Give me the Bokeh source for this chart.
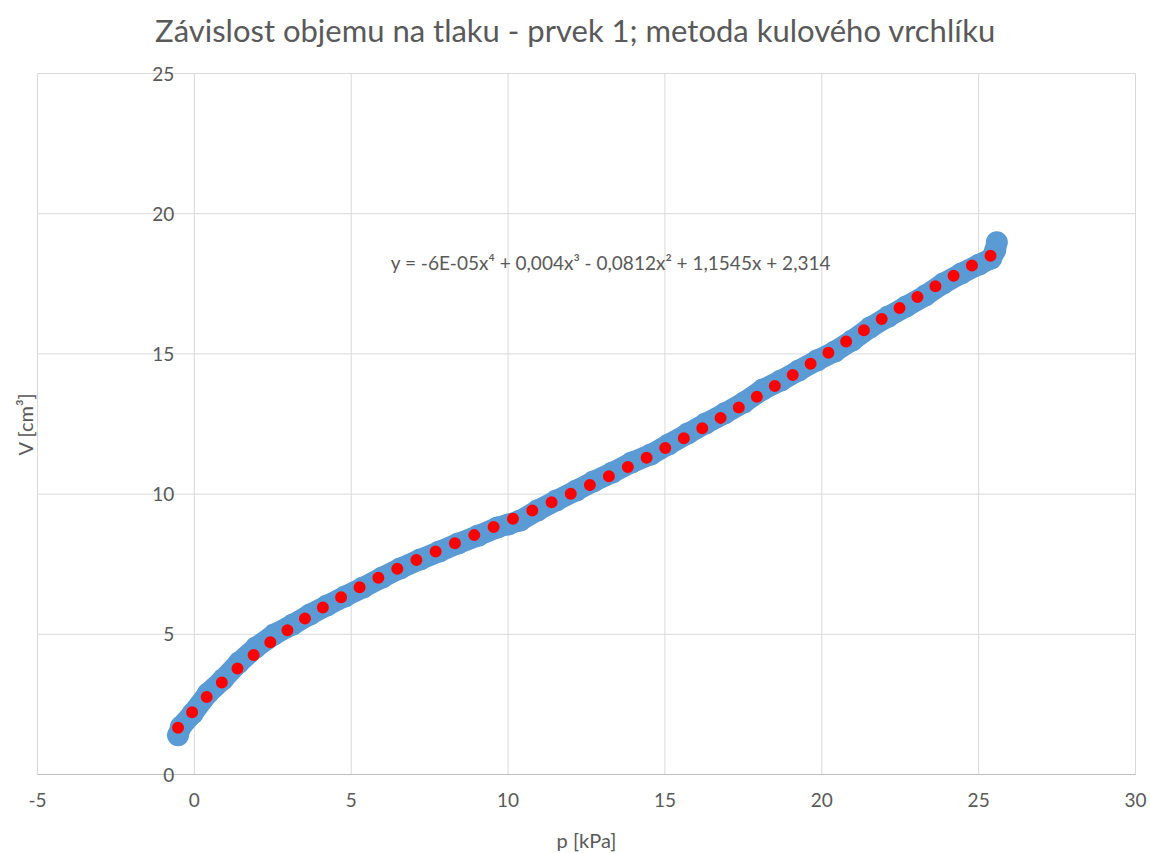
import numpy as np
from bokeh.plotting import figure
from bokeh.models import Range1d, FixedTicker, Label, LinearAxis
from bokeh.embed import file_html
from bokeh.resources import INLINE

# ---- data ----
p_kpa = [-0.52, -0.43, -0.05, 0.43, 0.91, 1.42, 1.96, 2.54, 3.14, 3.69, 4.23, 4.80,
         5.38, 5.99, 6.56, 7.20, 7.81, 8.41, 9.05, 9.66, 10.01, 10.39, 10.94, 11.54,
         12.18, 12.72, 13.33, 13.94, 14.55, 15.12, 15.73, 16.30, 16.91, 17.52, 18.12,
         18.70, 19.27, 19.85, 20.42, 20.97, 21.54, 22.12, 22.69, 23.30, 23.87, 24.45,
         25.02, 25.40, 25.53, 25.58]
v_cm3 = [1.40, 1.70, 2.18, 2.89, 3.39, 3.99, 4.53, 4.99, 5.35, 5.71, 6.03, 6.35,
         6.67, 7.03, 7.35, 7.67, 7.95, 8.24, 8.52, 8.81, 8.92, 9.06, 9.42, 9.77,
         10.13, 10.45, 10.77, 11.13, 11.41, 11.77, 12.16, 12.52, 12.88, 13.27, 13.73,
         14.05, 14.41, 14.77, 15.09, 15.48, 15.94, 16.33, 16.69, 17.08, 17.51, 17.87,
         18.19, 18.40, 18.70, 18.98]

x_ticks = [-5, 0, 5, 10, 15, 20, 25, 30]
y_ticks = [0, 5, 10, 15, 20, 25]

title_text = "Závislost objemu na tlaku - prvek 1; metoda kulového vrchlíku"
x_title = "p [kPa]"
y_title = "V [cm³]"
equation = "y = -6E-05x⁴ + 0,004x³ - 0,0812x² + 1,1545x + 2,314"

FONT = "Lato"
TXT = "#595959"
GRID = "#D9D9D9"

W, H = 1150, 853
# plot area (Excel style) occupies px 37..1135 horizontally and 73..774 vertically
x0, x1 = x_ticks[0], x_ticks[-1]
y0, y1 = y_ticks[0], y_ticks[-1]
sx = (1135 - 37) / (x1 - x0)
sy = (774 - 73) / (y1 - y0)
x_range = Range1d(x0 - 37 / sx, x1 + (W - 1135) / sx)
y_range = Range1d(y0 - (H - 774) / sy, y1 + 73 / sy)

p = figure(width=W, height=H, output_backend="svg", toolbar_location=None,
           x_range=x_range, y_range=y_range, min_border=0,
           background_fill_color="white", border_fill_color="white")
p.outline_line_color = None
p.xgrid.visible = False
p.ygrid.visible = False

# gridlines limited to the plot area
p.segment(x0=x_ticks, y0=[y0] * len(x_ticks), x1=x_ticks, y1=[y1] * len(x_ticks),
          line_color=GRID, line_width=1)
p.segment(x0=[x0] * len(y_ticks), y0=y_ticks, x1=[x1] * len(y_ticks), y1=y_ticks,
          line_color=GRID, line_width=1)

# horizontal axis at V = 0
p.xaxis.fixed_location = 0
p.xaxis.bounds = (x0, x1)
p.xaxis.ticker = FixedTicker(ticks=x_ticks)
p.xaxis.major_label_overrides = {t: str(t) for t in x_ticks}
p.xaxis.major_tick_line_color = None
p.xaxis.minor_tick_line_color = None
p.xaxis.major_tick_out = 0
p.xaxis.major_tick_in = 0
p.xaxis.major_label_standoff = 18
p.xaxis.axis_line_color = "#BFBFBF"
p.xaxis.major_label_text_font = FONT
p.xaxis.major_label_text_font_size = "19px"
p.xaxis.major_label_text_color = TXT
p.xaxis.axis_label = x_title
p.xaxis.axis_label_standoff = 18
p.xaxis.axis_label_text_font = FONT
p.xaxis.axis_label_text_font_size = "20px"
p.xaxis.axis_label_text_font_style = "normal"
p.xaxis.axis_label_text_color = TXT

# vertical axis crossing at p = 0 (its line is the gridline underneath)
p.yaxis.fixed_location = 0
p.yaxis.bounds = (y0, y1)
p.yaxis.ticker = FixedTicker(ticks=y_ticks)
p.yaxis.major_label_overrides = {t: str(t) for t in y_ticks}
p.yaxis.axis_line_color = None
p.yaxis.major_tick_line_color = None
p.yaxis.minor_tick_line_color = None
p.yaxis.major_tick_out = 0
p.yaxis.major_tick_in = 0
p.yaxis.major_label_standoff = 20
p.yaxis.major_label_text_font = FONT
p.yaxis.major_label_text_font_size = "19px"
p.yaxis.major_label_text_color = TXT

# axis title at the left edge of the plot area
ytitle_axis = LinearAxis(fixed_location=x0, bounds=(y0, y1),
                         ticker=FixedTicker(ticks=[]), axis_label=y_title)
ytitle_axis.axis_line_color = None
ytitle_axis.major_tick_line_color = None
ytitle_axis.minor_tick_line_color = None
ytitle_axis.axis_label_standoff = 1
ytitle_axis.axis_label_text_font = FONT
ytitle_axis.axis_label_text_font_size = "20px"
ytitle_axis.axis_label_text_font_style = "normal"
ytitle_axis.axis_label_text_color = TXT
p.add_layout(ytitle_axis, "left")

# measured data: dense blue band
p.line(p_kpa, v_cm3, line_color="#5B9BD5", line_width=21,
       line_join="round", line_cap="round")
p.scatter(p_kpa, v_cm3, size=22, fill_color="#5B9BD5", line_color=None)

# polynomial trendline (degree 4) as round dots
coef = np.polyfit(p_kpa, v_cm3, 4)
xs = np.linspace(min(p_kpa), max(p_kpa), 600)
ys = np.polyval(coef, xs)
p.line(xs, ys, line_color="#FF0000", line_width=12, line_dash="0 21",
       line_cap="round")

# chart title and regression equation
p.add_layout(Label(x=12.15, y=y1, y_offset=44, text=title_text, text_align="center",
                   text_baseline="middle", text_font=FONT, text_font_size="31px",
                   text_color=TXT))
p.add_layout(Label(x=6.26, y=18.26, text=equation, text_align="left",
                   text_baseline="middle", text_font=FONT, text_font_size="19px",
                   text_color=TXT))

open("out.html", "w").write(file_html(p, INLINE))
